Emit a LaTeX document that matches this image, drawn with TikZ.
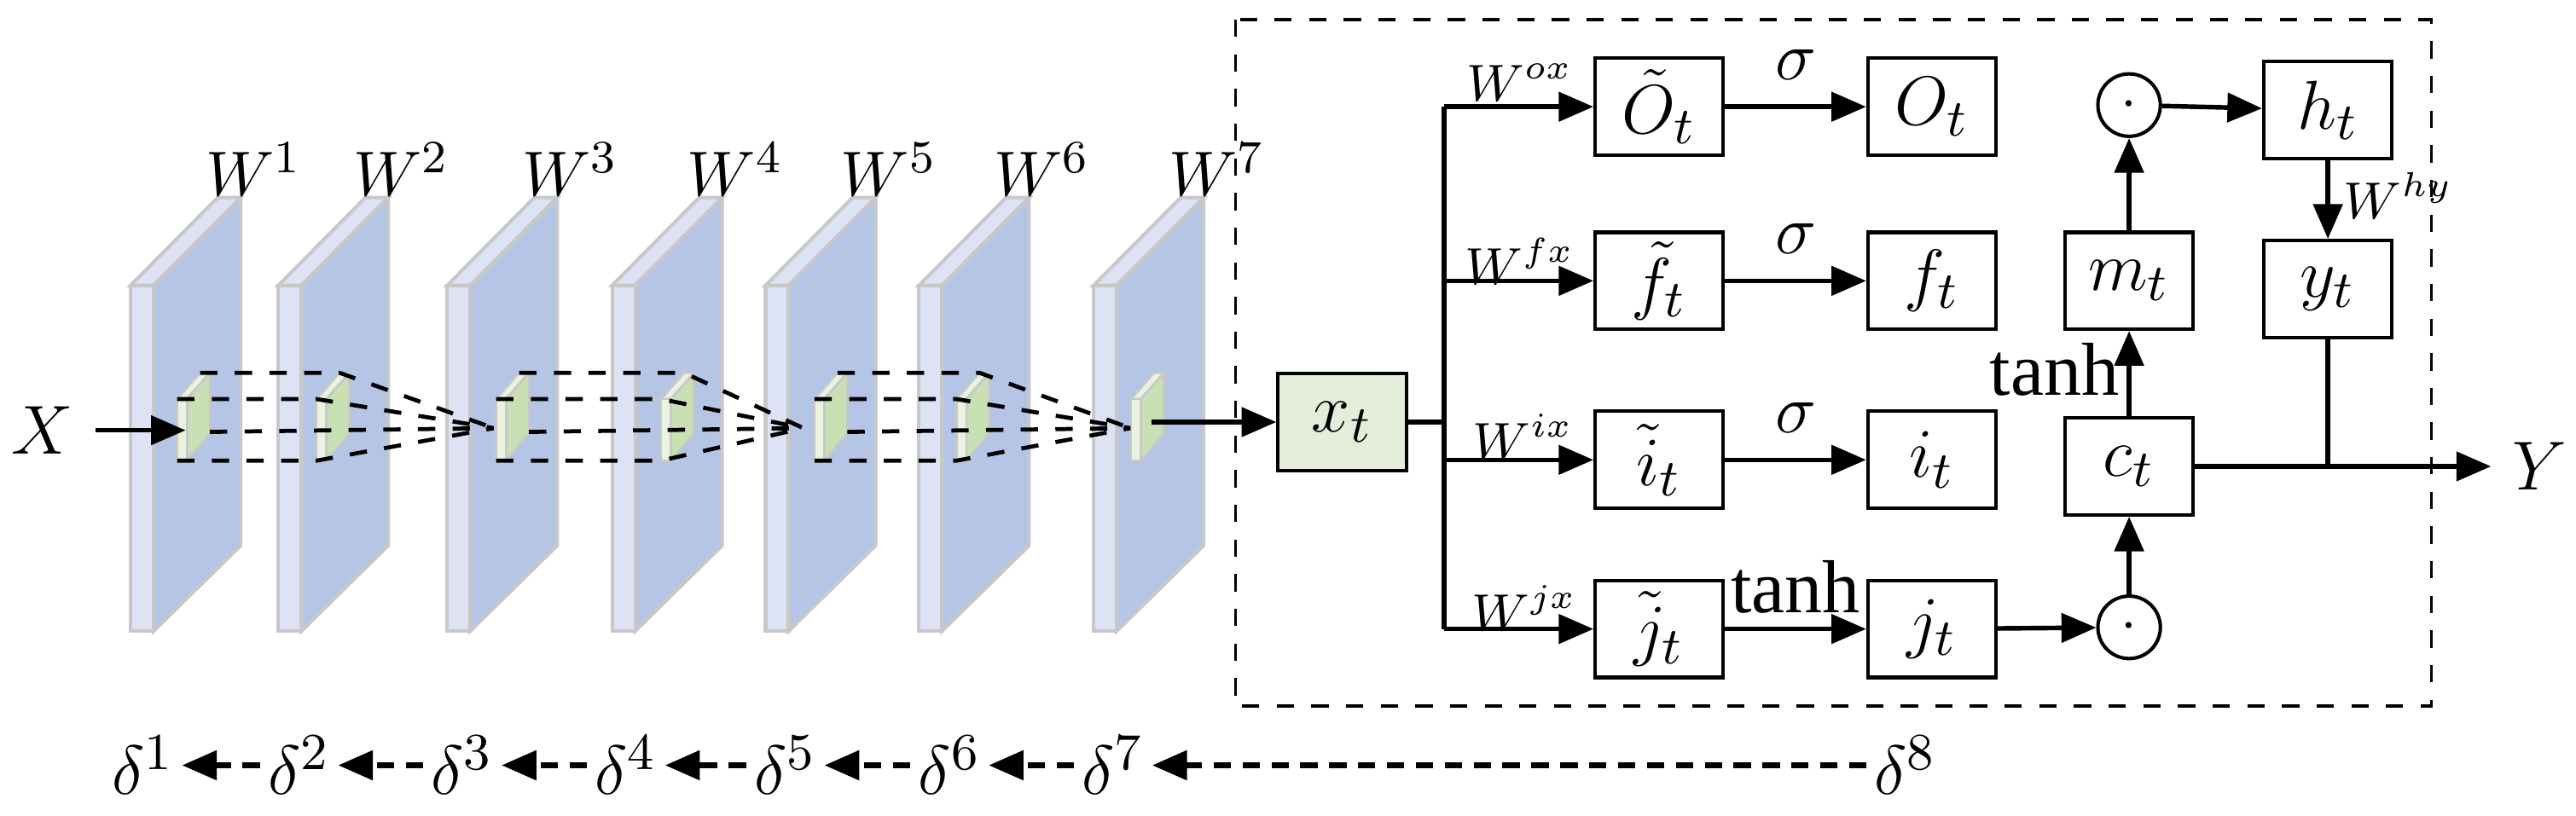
\documentclass[tikz,border=0pt]{standalone}
\usepackage{fontspec}
\setmainfont{Liberation Serif}
\usetikzlibrary{arrows.meta,positioning}
\definecolor{planefront}{HTML}{DDE2F4}
\definecolor{planeface}{HTML}{B4C5E6}
\definecolor{planeedge}{HTML}{C8C8C8}
\definecolor{patchfront}{HTML}{EAF3E0}
\definecolor{patchface}{HTML}{C8E0B4}
\definecolor{xfill}{HTML}{E4EDDA}
\begin{document}
\begin{tikzpicture}[x=0.01cm,y=-0.01cm,
  line width=0.8pt,
  >={Triangle[length=6pt,width=5pt]},
  box/.style={draw, line width=0.6pt, minimum width=0.78cm, minimum height=0.59cm, inner sep=0pt, font=\fontsize{13}{15}\selectfont},
  odot/.style={draw, line width=0.6pt, circle, minimum size=0.38cm, inner sep=0pt},
  wlab/.style={font=\fontsize{9}{11}\selectfont},
  lab/.style={font=\fontsize{13}{15}\selectfont},
  flow/.style={->, line width=0.8pt},
  back/.style={->, line width=0.9pt, dash pattern=on 3pt off 2pt}
]
\useasboundingbox (0,0) rectangle (1568,496.4);

% conv layers
\foreach \px [count=\k] in {79.5,169.4,272.2,372.6,466,559.4,665.7} {
  \filldraw[fill=planefront, draw=planeedge, line width=0.6pt] (\px,173.8) -- (\px+14,173.8) -- (\px+67,120.3) -- (\px+53,120.3) -- cycle;
  \filldraw[fill=planeface, draw=planeedge, line width=0.6pt] (\px+14,173.8) -- (\px+67,120.3) -- (\px+67,332.2) -- (\px+14,384.3) -- cycle;
  \filldraw[fill=planefront, draw=planeedge, line width=0.6pt] (\px,173.8) rectangle (\px+14,384.3);
  \node[wlab, font=\fontsize{11}{13}\selectfont] (w\k) at (\px+75,103) {$W^{\k}$};
}

% receptive patches
\foreach \qx in {107.8,192.7,302,402.4,495.8,582.2,688.5} {
  \filldraw[fill=patchfront, draw=planeedge, line width=0.4pt] (\qx,243) -- (\qx+6,243) -- (\qx+20,227) -- (\qx+14,227) -- cycle;
  \filldraw[fill=patchface, draw=planeedge, line width=0.4pt] (\qx+6,243) -- (\qx+20,227) -- (\qx+20,264) -- (\qx+6,280.5) -- cycle;
  \filldraw[fill=patchfront, draw=planeedge, line width=0.4pt] (\qx,243) rectangle (\qx+6,280.5);
}

% projections
\foreach \ax/\bx/\cx in {107.8/192.7/300.5, 302/402.4/489, 495.8/582.2/688} {
  \draw[dashed, line width=0.7pt] (\ax+14,227) -- (\bx+14,227) -- (\cx,260.7);
  \draw[dashed, line width=0.7pt] (\ax,243) -- (\bx,243) -- (\cx,260.7);
  \draw[dashed, line width=0.7pt] (\ax,280.5) -- (\bx,280.5) -- (\cx,260.7);
  \draw[dashed, line width=0.7pt] (\ax+20,263) -- (\cx,260.7);
}

% input and LSTM cell
\node[lab] (X) at (26,262) {$X$};
\coordinate (p1) at (113,262);
\draw[flow] (X.east) -- (p1);
\coordinate (p7) at (701,257);
\node[box, fill=xfill] (xt) at (817,257) {$x_t$};
\draw[flow] (p7) -- (xt);

\draw[dashed, line width=0.5pt] (752,12) rectangle (1480,430);

\node[box] (ot) at (1010,65) {$\tilde{O}_t$};
\node[box] (o) at (1176,65) {$O_t$};
\node[box] (ft) at (1010,171) {$\tilde{f}_t$};
\node[box] (f) at (1176,171) {$f_t$};
\node[box] (it) at (1010,280) {$\tilde{i}_t$};
\node[box] (i) at (1176,280) {$i_t$};
\node[box] (jt) at (1010,383) {$\tilde{j}_t$};
\node[box] (j) at (1176,383) {$j_t$};
\node[box] (m) at (1296,171) {$m_t$};
\node[box] (c) at (1296,284) {$c_t$};
\node[odot] (d1) at (1296,64) {$\cdot$};
\node[odot] (d2) at (1296,382) {$\cdot$};
\node[box] (h) at (1417,67) {$h_t$};
\node[box] (y) at (1417,176) {$y_t$};

\coordinate (b0) at (879,257);
\coordinate (b1) at (879,65);
\coordinate (b2) at (879,171);
\coordinate (b3) at (879,280);
\coordinate (b4) at (879,383);
\draw (xt.east) -- (b0);
\draw (b1) -- (b4);
\draw[flow] (b1) -- (ot);
\draw[flow] (b2) -- (ft);
\draw[flow] (b3) -- (it);
\draw[flow] (b4) -- (jt);
\node[wlab] at (925,50) {$W^{ox}$};
\node[wlab] at (925,159) {$W^{fx}$};
\node[wlab] at (927,266) {$W^{ix}$};
\node[wlab] at (928,370) {$W^{jx}$};

\draw[flow] (ot) -- node[lab, above=1pt] {$\sigma$} (o);
\draw[flow] (ft) -- node[lab, above=1pt] {$\sigma$} (f);
\draw[flow] (it) -- node[lab, above=1pt] {$\sigma$} (i);
\draw[flow] (jt) -- node[lab, above=-1pt] {tanh} (j);
\draw[flow] (j) -- (d2);
\draw[flow] (d2) -- (c);
\draw[flow] (c) -- node[lab, left=-2pt, pos=0.55] {tanh} (m);
\draw[flow] (m) -- (d1);
\draw[flow] (d1) -- (h);
\draw[flow] (h) -- node[wlab, right=-1pt, pos=0.45] {$W^{hy}$} (y);

\node[lab] (Y) at (1546,284) {$Y$};
\coordinate (yj) at (1417,284);
\draw[flow] (c.east) -- (Y.west);
\draw (y.south) -- (yj);

% backward deltas
\foreach \dx [count=\k] in {87,182,281.5,381,478,578,677.5,1160} {
  \node[lab, inner sep=1pt] (d\k) at (\dx,466) {$\delta^{\k}$};
}
\foreach \k [evaluate=\k as \n using int(\k+1)] in {1,...,7} {
  \draw[back] (d\n.west) -- (d\k.east);
}
\end{tikzpicture}
\end{document}
